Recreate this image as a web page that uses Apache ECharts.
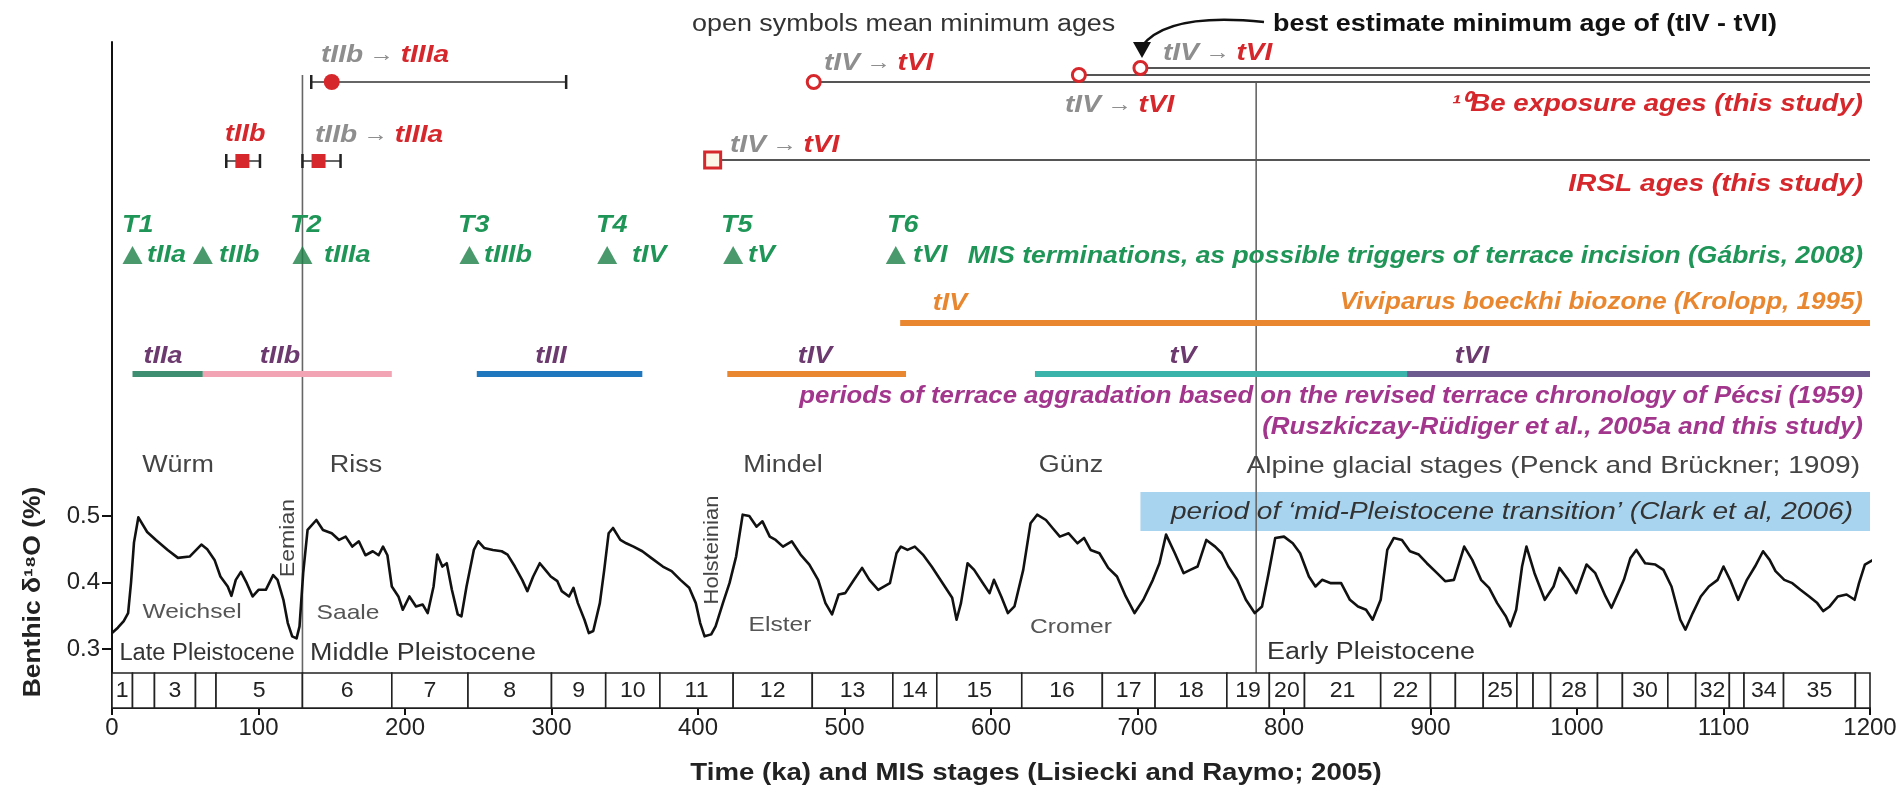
<!DOCTYPE html>
<html>
<head>
<meta charset="utf-8">
<script src="https://cdn.jsdelivr.net/npm/echarts@6/dist/echarts.min.js"></script>
<style>
  html, body { margin: 0; padding: 0; background: #ffffff; }
  #chart { width: 1902px; height: 801px; }
</style>
</head>
<body>
<div id="chart"></div>
<script>
// ---------------------------------------------------------------
// Benthic d18O stack (scaled), age in ka
const AGE = [0, 4, 8, 11, 13, 15, 18, 24, 30, 38, 45, 53, 61, 65, 70, 74, 79, 81.5, 84.5, 88, 92, 96, 100, 105, 110, 113, 117, 120, 123, 126, 128,
  130.5, 133.5, 139.5, 144, 150, 155, 159.5, 164, 168.5, 173, 178, 182, 185, 188, 191, 195.5, 198.5, 203, 207.5, 212, 215.5, 219.5, 222, 225.5,
  228.5, 232, 236, 238.5, 242, 247, 250, 254, 260, 266, 270, 275, 280, 283.5, 287.5, 292, 296.5, 299.5, 304, 307, 312, 315, 318, 322.5, 325.5,
  328.5, 333, 336, 339, 342, 347, 351, 356, 362, 368, 376, 382, 388, 394, 398.5, 401.5, 404.5, 409, 412, 417, 421.5, 426, 430.5, 435, 440, 444,
  449, 453, 458, 464, 470, 476, 482, 487, 491.5, 496, 500.5, 506.5, 512, 517, 523, 531, 535.5, 538.5, 543, 548, 553.5, 559.5, 567, 573.5, 576.5,
  579.5, 584, 588.5, 594.5, 599, 602, 607, 611.5, 616, 622, 627, 631.5, 637.5, 642, 647, 653, 659, 663.5, 668, 674, 680, 686, 692, 698, 704,
  710.5, 715, 719.5, 725.5, 731.5, 736, 741, 747, 753, 757.5, 762, 768, 774, 780, 785, 789.5, 794, 800, 806, 811, 817, 821.5, 826, 832, 839,
  845, 850.5, 856, 860.5, 866, 870.5, 875, 880.5, 886, 892, 897.5, 904.5, 910, 916, 923, 928.5, 934.5, 940, 945.5, 951.5, 954.5, 958.5, 962.5,
  965.5, 971, 978, 984, 988, 994, 999.5, 1006.5, 1012.5, 1019.5, 1023.5, 1028, 1032, 1036.5, 1040.5, 1046.5, 1053.5, 1059, 1064.5, 1070.5,
  1074, 1079, 1084.5, 1090, 1096, 1100, 1104.5, 1110, 1116, 1121.5, 1127, 1131.5, 1135.5, 1141.5, 1147, 1152.5, 1158.5, 1164, 1168, 1172.5,
  1178, 1184, 1189.5, 1192.5, 1196.5, 1202];
const D18O = [0.324, 0.332, 0.342, 0.354, 0.400, 0.460, 0.498, 0.476, 0.464, 0.449, 0.437, 0.439, 0.457, 0.450, 0.434, 0.409, 0.394, 0.380,
  0.404, 0.416, 0.399, 0.379, 0.389, 0.389, 0.411, 0.404, 0.374, 0.339, 0.319, 0.316, 0.334,
  0.414, 0.479, 0.494, 0.479, 0.474, 0.464, 0.469, 0.454, 0.462, 0.441, 0.447, 0.441, 0.454, 0.441, 0.394, 0.379, 0.359, 0.379, 0.364, 0.367,
  0.354, 0.394, 0.442, 0.424,
  0.429, 0.389, 0.352, 0.349, 0.394, 0.449, 0.462, 0.452, 0.449, 0.447, 0.442, 0.424, 0.404, 0.387, 0.409, 0.429, 0.417, 0.409, 0.402, 0.387,
  0.379, 0.392, 0.369, 0.344, 0.324,
  0.327, 0.369, 0.419, 0.474, 0.482, 0.464, 0.459, 0.454, 0.447, 0.437, 0.424, 0.417, 0.404, 0.392, 0.369, 0.339, 0.319, 0.322, 0.334, 0.369,
  0.399, 0.439, 0.502, 0.500, 0.484, 0.492,
  0.469, 0.464, 0.454, 0.462, 0.442, 0.427, 0.404, 0.369, 0.352, 0.382, 0.384, 0.404, 0.422, 0.404, 0.389, 0.399, 0.444, 0.454, 0.449, 0.454,
  0.442, 0.424, 0.399, 0.377, 0.344,
  0.369, 0.429, 0.419, 0.399, 0.384, 0.404, 0.379, 0.354, 0.364, 0.419, 0.489, 0.502, 0.494, 0.482, 0.469, 0.474, 0.459, 0.467, 0.449, 0.444,
  0.422, 0.409, 0.379, 0.354, 0.374,
  0.404, 0.429, 0.472, 0.444, 0.414, 0.419, 0.424, 0.464, 0.454, 0.444, 0.424, 0.404, 0.374, 0.354, 0.364, 0.414, 0.467, 0.469, 0.459, 0.444,
  0.409, 0.394, 0.404, 0.399, 0.399,
  0.374, 0.364, 0.359, 0.344, 0.374, 0.449, 0.467, 0.464, 0.447, 0.442, 0.429, 0.414, 0.402, 0.404, 0.454, 0.434, 0.404, 0.392, 0.369, 0.349,
  0.334, 0.359, 0.424,
  0.454, 0.414, 0.374, 0.394, 0.422, 0.404, 0.384, 0.427, 0.414, 0.379, 0.362, 0.384, 0.404, 0.437, 0.449, 0.429, 0.427, 0.419, 0.394, 0.344,
  0.329, 0.354, 0.379, 0.394, 0.404, 0.424, 0.404, 0.374, 0.404, 0.424, 0.447, 0.434, 0.417, 0.404, 0.399, 0.389, 0.379, 0.369, 0.357, 0.364,
  0.379, 0.382, 0.374, 0.399, 0.427, 0.434];

// Marine isotope stages (ka)
const MIS_STAGE = [1, 2, 3, 4, 5, 6, 7, 8, 9, 10, 11, 12, 13, 14, 15, 16, 17, 18, 19, 20, 21, 22, 23, 24, 25, 26, 27, 28, 29, 30, 31, 32, 33, 34, 35, 36];
const MIS_START = [0, 14, 29, 57, 71, 130, 191, 243, 300, 337, 374, 424, 478, 533, 563, 621, 676, 712, 761, 790, 814, 866, 900, 917, 936, 959, 970,
  982, 1014, 1031, 1062, 1081, 1104, 1114, 1141, 1190];
const MIS_END = [14, 29, 57, 71, 130, 191, 243, 300, 337, 374, 424, 478, 533, 563, 621, 676, 712, 761, 790, 814, 866, 900, 917, 936, 959, 970, 982,
  1014, 1031, 1062, 1081, 1104, 1114, 1141, 1190, 1215];
const MIS_NUMBERED = [1, 3, 5, 6, 7, 8, 9, 10, 11, 12, 13, 14, 15, 16, 17, 18, 19, 20, 21, 22, 25, 28, 30, 32, 34, 35];

// 10Be exposure ages (ka)
const BE_AGE = [150];          // tIIb -> tIIIa
const BE_LOW = [136];
const BE_HIGH = [310];
const BE_MIN_AGE = [479, 660, 702];   // minimum ages, tIV -> tVI

// IRSL ages (ka)
const IRSL_AGE = [89, 141];     // tIIb, tIIb -> tIIIa
const IRSL_LOW = [78, 130];
const IRSL_HIGH = [101, 156];
const IRSL_MIN_AGE = [410];     // minimum age, tIV -> tVI

// MIS terminations and the terraces they may have triggered
const TERMINATION_NAME = ['T1', '', 'T2', 'T3', 'T4', 'T5', 'T6'];
const TERMINATION_AGE = [14, 62, 130, 244, 338, 424, 535];
const TERMINATION_TERRACE = ['tIIa', 'tIIb', 'tIIIa', 'tIIIb', 'tIV', 'tV', 'tVI'];

// Viviparus boeckhi biozone (ka)
const VIVIPARUS_START = [538];
const VIVIPARUS_END = [1200];

// Periods of terrace aggradation (ka)
const AGGR_TERRACE = ['tIIa', 'tIIb', 'tIII', 'tIV', 'tV', 'tVI'];
const AGGR_START = [14, 62, 249, 420, 630, 884];
const AGGR_END = [62, 191, 362, 542, 884, 1200];

// Mid-Pleistocene transition (ka)
const MPT_START = [702];
const MPT_END = [1200];

// Chronostratigraphic boundaries (ka)
const BOUNDARY_AGE = [130, 781];

const X_TICKS = [0, 100, 200, 300, 400, 500, 600, 700, 800, 900, 1000, 1100, 1200];
const Y_TICKS = [0.3, 0.4, 0.5];

// ---------------------------------------------------------------
// layout (page pixels)
const PLOT_LEFT = 112, PLOT_RIGHT = 1870, PLOT_TOP = 42, AXIS_Y = 708;
const CURVE_TOP = 516, CURVE_BOTTOM = 649;
const STRIP_TOP = 673;
const ROW = {
  beBar: 82, beMin: [82, 75, 68], irsl: 161, irslMin: 160, boundaryTop: [75, 83],
  tri: 255, vivi: 323, aggr: 374, mptTop: 492, mptBottom: 531
};
const FONT = '"Liberation Sans", Arial, sans-serif';
const SX = 1.17;   // lettering is set slightly wide
const RED = '#d6282c', GREY = '#8e8e8e', GREEN = '#1f9657', TRI_GREEN = '#1d8047', ORANGE = '#e8872f';
const AGGR_COLOR = ['#3e8f72', '#f2a3b4', '#1f77bd', '#e8872f', '#3ab3aa', '#6b5b8f'];
const AGGR_LABEL = '#6d3a6f', PERIOD_TEXT = '#a2368d';

const xMin = X_TICKS[0], xMax = X_TICKS[X_TICKS.length - 1];

function font(size, weight, style) {
  return (style || 'normal') + ' ' + (weight || 'normal') + ' ' + size + 'px ' + FONT;
}
function text(x, y, str, opt) {
  opt = opt || {};
  return {
    type: 'text', x: x, y: y, rotation: opt.rotation || 0, z: 50,
    scaleX: opt.sx || SX, scaleY: 1,
    style: {
      text: str, fill: opt.fill || '#333', font: opt.font || font(23),
      align: opt.align || 'left', verticalAlign: 'middle', rich: opt.rich
    }
  };
}
// grey origin terrace, grey arrow, red target terrace
const RICH_ARROW = {
  g: { fill: GREY, fontSize: 24, fontStyle: 'italic', fontWeight: 'bold', fontFamily: FONT },
  a: { fill: GREY, fontSize: 21, fontFamily: FONT },
  r: { fill: RED, fontSize: 24, fontStyle: 'italic', fontWeight: 'bold', fontFamily: FONT }
};
function transition(x, y, from, to) {
  return text(x, y, '{g|' + from + '} {a|→} {r|' + to + '}', { rich: RICH_ARROW, font: font(20) });
}
const BI = font(23, 'bold', 'italic');

const graphics = [
  text(692, 25, 'open symbols mean minimum ages', { fill: '#333' }),
  text(1273, 25, 'best estimate minimum age of (tIV - tVI)', { font: font(23, 'bold'), fill: '#111' }),
  {
    type: 'bezierCurve', z: 50,
    shape: { x1: 1264, y1: 22, cpx1: 1168, cpy1: 12, x2: 1142, y2: 46 },
    style: { stroke: '#111', lineWidth: 2.5, fill: null }
  },
  { type: 'polygon', z: 50, shape: { points: [[1142, 58], [1133, 42], [1151, 42]] }, style: { fill: '#111' } },
  transition(321, 55, 'tIIb', 'tIIIa'),
  transition(824, 63, 'tIV', 'tVI'),
  transition(1065, 105, 'tIV', 'tVI'),
  transition(1163, 53, 'tIV', 'tVI'),
  text(1863, 105, '¹⁰Be exposure ages (this study)', { font: BI, fill: RED, align: 'right', sx: 1.2 }),
  text(225, 135, 'tIIb', { font: BI, fill: RED }),
  transition(315, 135, 'tIIb', 'tIIIa'),
  transition(730, 145, 'tIV', 'tVI'),
  text(1863, 185, 'IRSL ages (this study)', { font: BI, fill: RED, align: 'right', sx: 1.22 }),
  text(1863, 257, 'MIS terminations, as possible triggers of terrace incision (Gábris, 2008)', { font: BI, fill: GREEN, align: 'right', sx: 1.15 }),
  text(950, 304, 'tIV', { font: BI, fill: ORANGE, align: 'center' }),
  text(1863, 303, 'Viviparus boeckhi biozone (Krolopp, 1995)', { font: BI, fill: ORANGE, align: 'right', sx: 1.13 }),
  text(1863, 397, 'periods of terrace aggradation based on the revised terrace chronology of Pécsi (1959)', { font: BI, fill: PERIOD_TEXT, align: 'right', sx: 1.12 }),
  text(1863, 428, '(Ruszkiczay-Rüdiger et al., 2005a and this study)', { font: BI, fill: PERIOD_TEXT, align: 'right', sx: 1.13 }),
  text(178, 466, 'Würm', { align: 'center', fill: '#444' }),
  text(356, 466, 'Riss', { align: 'center', fill: '#444' }),
  text(783, 466, 'Mindel', { align: 'center', fill: '#444' }),
  text(1071, 466, 'Günz', { align: 'center', fill: '#444' }),
  text(1860, 466, 'Alpine glacial stages (Penck and Brückner; 1909)', { font: font(24), align: 'right', fill: '#444' }),
  text(1853, 512, 'period of ‘mid-Pleistocene transition’ (Clark et al, 2006)', { font: font(24, 'normal', 'italic'), fill: '#333', align: 'right' }),
  text(288, 538, 'Eemian', { font: font(21), fill: '#444', align: 'center', rotation: Math.PI / 2, sx: 1.1 }),
  text(712, 550, 'Holsteinian', { font: font(21), fill: '#444', align: 'center', rotation: Math.PI / 2, sx: 1.05 }),
  text(192, 612, 'Weichsel', { font: font(21), fill: '#555', align: 'center' }),
  text(348, 613, 'Saale', { font: font(21), fill: '#555', align: 'center' }),
  text(780, 625, 'Elster', { font: font(21), fill: '#555', align: 'center' }),
  text(1071, 627, 'Cromer', { font: font(21), fill: '#555', align: 'center' }),
  text(207, 654, 'Late Pleistocene', { fill: '#333', align: 'center', sx: 1.03 }),
  text(310, 654, 'Middle Pleistocene', { fill: '#333' }),
  text(1267, 653, 'Early Pleistocene', { fill: '#333' }),
  text(1036, 774, 'Time (ka) and MIS stages (Lisiecki and Raymo; 2005)', { font: font(23, 'bold'), fill: '#222', align: 'center', sx: 1.2 }),
  text(34, 592, 'Benthic δ¹⁸O (%)', { font: font(23, 'bold'), fill: '#222', align: 'center', rotation: Math.PI / 2, sx: 1.15 })
];

// termination names and triangle labels
const T_NAME_X = [122, 0, 290, 458, 596, 721, 887];
const T_LABEL_X = [147, 219, 324, 484, 632, 748, 913];
TERMINATION_NAME.forEach((n, i) => {
  if (n) graphics.push(text(T_NAME_X[i], 226, n, { font: BI, fill: GREEN }));
  graphics.push(text(T_LABEL_X[i], 256, TERMINATION_TERRACE[i], { font: BI, fill: GREEN }));
});
// aggradation labels
const AGGR_LABEL_X = [163, 280, 551, 815, 1183, 1472];
AGGR_TERRACE.forEach((t, i) => graphics.push(text(AGGR_LABEL_X[i], 357, t, { font: BI, fill: AGGR_LABEL, align: 'center' })));

// ---------------------------------------------------------------
function seg(a, b, style) {
  return { type: 'line', shape: { x1: a[0], y1: a[1], x2: b[0], y2: b[1] }, style: style };
}

const option = {
  animation: false,
  backgroundColor: '#ffffff',
  textStyle: { fontFamily: FONT },
  grid: [
    { left: PLOT_LEFT, right: 1902 - PLOT_RIGHT, top: PLOT_TOP, bottom: 801 - AXIS_Y },
    { left: PLOT_LEFT, right: 1902 - PLOT_RIGHT, top: CURVE_TOP, bottom: 801 - CURVE_BOTTOM },
    { left: PLOT_LEFT, right: 1902 - PLOT_RIGHT, top: STRIP_TOP, bottom: 801 - AXIS_Y }
  ],
  xAxis: [
    {
      gridIndex: 0, type: 'value', min: xMin, max: xMax, interval: 100,
      axisLine: { lineStyle: { color: '#111', width: 2 } },
      axisTick: { length: 7, lineStyle: { color: '#111', width: 2 } },
      axisLabel: { fontSize: 24, color: '#222', margin: 8, fontFamily: FONT, formatter: v => String(v) },
      splitLine: { show: false }
    },
    { gridIndex: 1, type: 'value', min: xMin, max: xMax, show: false },
    { gridIndex: 2, type: 'value', min: xMin, max: xMax, show: false }
  ],
  yAxis: [
    {
      gridIndex: 0, type: 'value', min: PLOT_TOP, max: AXIS_Y, inverse: true,
      axisLine: { show: true, lineStyle: { color: '#111', width: 2 } },
      axisTick: { show: false }, axisLabel: { show: false }, splitLine: { show: false }
    },
    {
      gridIndex: 1, type: 'value', min: Y_TICKS[0], max: Y_TICKS[Y_TICKS.length - 1], interval: 0.1,
      axisLine: { show: false },
      axisTick: { show: true, length: 10, lineStyle: { color: '#111', width: 2 } },
      axisLabel: { fontSize: 24, color: '#222', margin: 12, fontFamily: FONT, formatter: v => v.toFixed(1) },
      splitLine: { show: false }
    },
    { gridIndex: 2, type: 'value', min: 0, max: 1, show: false }
  ],
  graphic: graphics,
  series: [
    // mid-Pleistocene transition band
    {
      type: 'custom', xAxisIndex: 0, yAxisIndex: 0, z: 1,
      data: MPT_START.map((s, i) => [s, MPT_END[i]]),
      renderItem: (params, api) => {
        const a = api.coord([api.value(0), ROW.mptTop]);
        const b = api.coord([api.value(1), ROW.mptBottom]);
        return { type: 'rect', shape: { x: a[0], y: a[1], width: b[0] - a[0], height: b[1] - a[1] }, style: { fill: '#a9d4ef' } };
      }
    },
    // chronostratigraphic boundaries
    {
      type: 'custom', xAxisIndex: 0, yAxisIndex: 0, z: 2,
      data: BOUNDARY_AGE.map((a, i) => [a, ROW.boundaryTop[i]]),
      renderItem: (params, api) => seg(api.coord([api.value(0), api.value(1)]), api.coord([api.value(0), AXIS_Y]),
        { stroke: '#666', lineWidth: 1.6 })
    },
    // terrace aggradation periods and Viviparus biozone
    {
      type: 'custom', xAxisIndex: 0, yAxisIndex: 0, z: 3,
      data: AGGR_START.map((s, i) => [s, AGGR_END[i], ROW.aggr, i])
        .concat(VIVIPARUS_START.map((s, i) => [s, VIVIPARUS_END[i], ROW.vivi, -1])),
      renderItem: (params, api) => {
        const k = api.value(3);
        return seg(api.coord([api.value(0), api.value(2)]), api.coord([api.value(1), api.value(2)]),
          { stroke: k < 0 ? ORANGE : AGGR_COLOR[k], lineWidth: 6, lineCap: 'butt' });
      }
    },
    // minimum ages: open symbol with a line running to the end of the record
    {
      type: 'custom', xAxisIndex: 0, yAxisIndex: 0, z: 4,
      data: BE_MIN_AGE.map((a, i) => [a, ROW.beMin[i], 0]).concat(IRSL_MIN_AGE.map(a => [a, ROW.irslMin, 1])),
      renderItem: (params, api) => {
        const p = api.coord([api.value(0), api.value(1)]);
        const e = api.coord([xMax, api.value(1)]);
        const square = api.value(2) === 1;
        const mark = square
          ? { type: 'rect', shape: { x: p[0] - 8, y: p[1] - 8, width: 16, height: 16 }, style: { fill: '#fbf6e8', stroke: RED, lineWidth: 3 } }
          : { type: 'circle', shape: { cx: p[0], cy: p[1], r: 6.5 }, style: { fill: '#fff', stroke: RED, lineWidth: 3 } };
        return {
          type: 'group', children: [
            seg([p[0] + 7, p[1]], e, { stroke: '#555', lineWidth: 2.2 }),
            mark
          ]
        };
      }
    },
    // dated ages with error bars
    {
      type: 'custom', xAxisIndex: 0, yAxisIndex: 0, z: 5,
      data: BE_AGE.map((a, i) => [a, BE_LOW[i], BE_HIGH[i], ROW.beBar, 0])
        .concat(IRSL_AGE.map((a, i) => [a, IRSL_LOW[i], IRSL_HIGH[i], ROW.irsl, 1])),
      renderItem: (params, api) => {
        const y = api.value(3);
        const p = api.coord([api.value(0), y]);
        const l = api.coord([api.value(1), y]);
        const h = api.coord([api.value(2), y]);
        const cap = { stroke: '#222', lineWidth: 2.5 };
        const mark = api.value(4) === 1
          ? { type: 'rect', shape: { x: p[0] - 7, y: p[1] - 7, width: 14, height: 14 }, style: { fill: RED } }
          : { type: 'circle', shape: { cx: p[0], cy: p[1], r: 8 }, style: { fill: RED } };
        return {
          type: 'group', children: [
            seg(l, h, { stroke: '#333', lineWidth: 1.6 }),
            seg([l[0], l[1] - 7], [l[0], l[1] + 7], cap),
            seg([h[0], h[1] - 7], [h[0], h[1] + 7], cap),
            mark
          ]
        };
      }
    },
    // MIS terminations
    {
      type: 'scatter', xAxisIndex: 0, yAxisIndex: 0, z: 6,
      symbol: 'triangle', symbolSize: [20, 18],
      itemStyle: { color: TRI_GREEN },
      data: TERMINATION_AGE.map(a => [a, ROW.tri])
    },
    // benthic curve
    {
      type: 'line', xAxisIndex: 1, yAxisIndex: 1, z: 7,
      data: AGE.map((a, i) => [a, D18O[i]]),
      showSymbol: false, clip: false,
      lineStyle: { color: '#111', width: 2.6, join: 'round' }
    },
    // MIS stage strip
    {
      type: 'custom', xAxisIndex: 2, yAxisIndex: 2, z: 8,
      data: MIS_STAGE.map((s, i) => [MIS_START[i], Math.min(MIS_END[i], xMax), s]),
      renderItem: (params, api) => {
        const a = api.coord([api.value(0), 1]);
        const b = api.coord([api.value(1), 0]);
        const n = api.value(2);
        const children = [{
          type: 'rect', shape: { x: a[0], y: a[1], width: b[0] - a[0], height: b[1] - a[1] },
          style: { fill: '#fff', stroke: '#222', lineWidth: 1.6 }
        }];
        if (MIS_NUMBERED.indexOf(n) >= 0) {
          children.push({
            type: 'text', x: (a[0] + b[0]) / 2, y: (a[1] + b[1]) / 2, scaleX: 1.05,
            style: { text: String(n), fill: '#222', font: font(22), align: 'center', verticalAlign: 'middle' }
          });
        }
        return { type: 'group', children: children };
      }
    }
  ]
};

const chart = echarts.init(document.getElementById('chart'), null, { renderer: 'canvas' });
chart.setOption(option);
</script>
</body>
</html>
